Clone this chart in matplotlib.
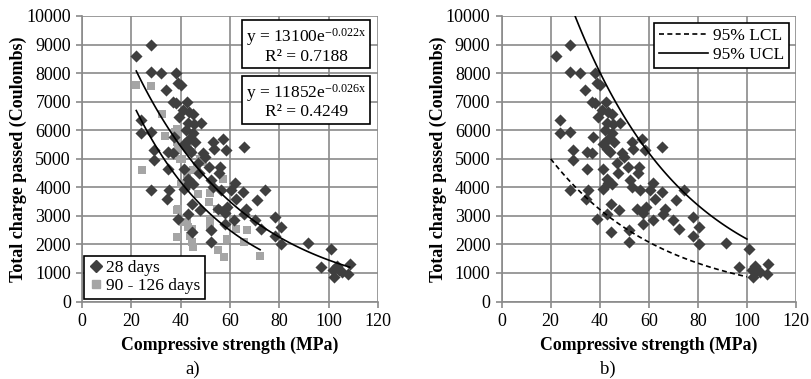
import numpy as np
import matplotlib
matplotlib.use("Agg")
import matplotlib.pyplot as plt
from matplotlib.lines import Line2D

plt.rcParams['font.family'] = ['Liberation Serif', 'DejaVu Serif']
plt.rcParams['mathtext.fontset'] = 'custom'
plt.rcParams['mathtext.rm'] = 'Liberation Serif'

# 28 days results (compressive strength MPa, charge Coulombs)
x28 = [22, 28, 28, 32, 38, 39, 40, 34, 36.7, 38.1, 42.5, 40.8, 43.5, 44.9, 39.4,
       24, 24, 28, 42.8, 45.5, 48.3, 42.1, 37.1, 43.5, 41.4, 53, 57.1, 42.8, 44.2,
       29.2, 34.7, 36.7, 49, 53.7, 58.4, 65.5, 29.2, 34.7, 41.5, 42.9, 43.5, 44.9,
       47.6, 51.6, 52.3, 53, 55.7, 56.4, 60.5, 61.9, 62.5, 65.2, 27.9, 35.4, 34.4,
       41.5, 44.6, 47.9, 42.9, 38.8, 55.3, 58.9, 57.8, 57.8, 61.8, 66.6, 44.5, 52.1,
       52.1, 74.3, 71.1, 65.7, 70, 72.4, 78.1, 80.6, 78.1, 80.6, 91.5, 101, 96.9,
       103.3, 108.5, 104, 102.3, 105.3, 108, 101.9, 45, 46, 50, 47, 56]
y28 = [8600, 9000, 8050, 8000, 8000, 7650, 7600, 7400, 7000, 6950, 7000, 6700, 6650,
       6550, 6450, 6350, 5900, 5950, 6250, 6200, 6250, 6000, 5750, 5700, 5500, 5600,
       5700, 5350, 5250, 5300, 5250, 5200, 5200, 5350, 5300, 5400, 4950, 4650, 4650,
       4300, 4150, 4100, 4500, 4700, 4250, 4000, 4500, 3900, 3900, 4150, 3600, 3850,
       3900, 3900, 3600, 3950, 3400, 3200, 3050, 2900, 3250, 3300, 3100, 2700, 2850,
       3250, 2450, 2500, 2100, 3900, 3550, 3050, 2850, 2550, 2950, 2600, 2300, 2000,
       2050, 1850, 1200, 1250, 1300, 1100, 850, 1050, 950, 1100, 5900, 5600, 5050,
       4850, 4700]

# 90 - 126 days results
x90 = [22, 28, 32.3, 24.2, 33.7, 38.4, 38.4, 38.7, 43.1, 39.8, 44.9, 47.9, 57.1, 43.1,
       47.2, 51.3, 38.4, 41.1, 43.1, 38.7, 43.8, 44.5, 51.9, 55.3, 57.6, 58.7, 39.1,
       44.5, 44.8, 51.9, 62.5, 66.8, 65.5, 72.2, 49.2, 57.3, 54.7, 51.9, 42.5, 39.1,
       44.5, 40.5, 42.5, 45.5, 40, 37.7, 42.5, 46.5]
y90 = [7600, 7550, 6550, 4600, 5800, 6050, 5850, 5600, 5450, 5000, 4600, 5000, 4300,
       4200, 3750, 3500, 3200, 2800, 2600, 2250, 2300, 2100, 2600, 1800, 1550, 2200,
       3250, 2550, 1900, 2850, 2550, 2500, 2100, 1600, 4900, 3200, 3250, 3800, 2800,
       5300, 5250, 5000, 4450, 4600, 4100, 5950, 5480, 4720]

# exponential trendlines y = a * exp(b x)
fit28 = (13100, -0.022, 0.7188)
fit90 = (11852, -0.026, 0.4249)
lcl = (7745, -0.0219)
ucl = (19150, -0.0217)
cl_range = (20, 100)

dark = '#3f3f3f'
light = '#a5a5a5'
gridc = '#8a8a8a'

fig = plt.figure(figsize=(8.12, 3.79), dpi=100)
W, H = 812, 379
axA = fig.add_axes([82 / W, (H - 301.5) / H, 296 / W, 285.5 / H])
axB = fig.add_axes([501.6 / W, (H - 301.5) / H, 294.4 / W, 285.5 / H])


def style(ax):
    ax.set_xlim(0, 120)
    ax.set_ylim(0, 10000)
    ax.set_xticks(range(0, 121, 20))
    ax.set_yticks(range(0, 10001, 1000))
    ax.grid(True, color=gridc, linewidth=1.2)
    ax.set_axisbelow(True)
    for s in ['top', 'right']:
        ax.spines[s].set_visible(False)
    for s in ['left', 'bottom']:
        ax.spines[s].set_color(gridc)
        ax.spines[s].set_linewidth(1.2)
    ax.tick_params(direction='out', length=4, width=1.2, color=gridc,
                   labelsize=13, pad=4)
    ax.set_xlabel('Compressive strength (MPa)', fontsize=12.8, fontweight='bold')
    ax.set_ylabel('Total charge passed (Coulombs)', fontsize=13, fontweight='bold')
    ax.xaxis.set_label_coords(0.5, -0.125)
    ax.yaxis.set_label_coords(-0.185, 0.5)


# panel a
style(axA)
axA.scatter(x90, y90, marker='s', s=30, color=light, zorder=3, linewidths=0)
axA.scatter(x28, y28, marker='D', s=38, color=dark, zorder=4, linewidths=0)
xs = np.linspace(min(x28), max(x28), 100)
axA.plot(xs, fit28[0] * np.exp(fit28[1] * xs), color='black', lw=1.2, zorder=5)
xs = np.linspace(min(x90), max(x90), 100)
axA.plot(xs, fit90[0] * np.exp(fit90[1] * xs), color='black', lw=1.2, zorder=5)

box = dict(boxstyle='square,pad=0.2', facecolor='white', edgecolor='black', lw=1.2)
for fit, yc in [(fit28, 0.897), (fit90, 0.702)]:
    txt = 'y = %de$\\mathregular{^{%.3fx}}$\nR² = %.4f' % (fit[0], fit[1], fit[2])
    axA.text(0.757, yc, txt, transform=axA.transAxes, ha='center', va='center',
             fontsize=12.5, bbox=box, zorder=6, linespacing=1.05)

hA = [Line2D([], [], marker='D', ls='none', color=dark, markersize=6),
      Line2D([], [], marker='s', ls='none', color=light, markersize=6)]
legA = axA.legend(hA, ['28 days', '90 - 126 days'], loc='lower left',
                  bbox_to_anchor=(0.008, 0.01), borderaxespad=0, fontsize=12.5,
                  fancybox=False, edgecolor='black', framealpha=1,
                  handlelength=0.8, handletextpad=0.2, borderpad=0.25,
                  labelspacing=0.1)
legA.get_frame().set_linewidth(1.2)
legA.set_zorder(7)

# panel b
style(axB)
axB.scatter(x28, y28, marker='D', s=38, color=dark, zorder=4, linewidths=0)
xs = np.linspace(cl_range[0], cl_range[1], 100)
axB.plot(xs, lcl[0] * np.exp(lcl[1] * xs), color='black', lw=1.2, ls=(0, (3, 2)),
         zorder=5, label='95% LCL')
axB.plot(xs, ucl[0] * np.exp(ucl[1] * xs), color='black', lw=1.2, zorder=5,
         label='95% UCL')
legB = axB.legend(loc='upper right', bbox_to_anchor=(0.977, 0.977), borderaxespad=0,
                  fontsize=12.5, fancybox=False, edgecolor='black', framealpha=1,
                  handlelength=2.8, handletextpad=0.3, borderpad=0.3,
                  labelspacing=0.15)
legB.get_frame().set_linewidth(1.2)

fig.text(193 / W, 1 - 369 / H, 'a)', ha='center', va='center', fontsize=13.5)
fig.text(608 / W, 1 - 369 / H, 'b)', ha='center', va='center', fontsize=13.5)

fig.savefig('out.png', dpi=100)
